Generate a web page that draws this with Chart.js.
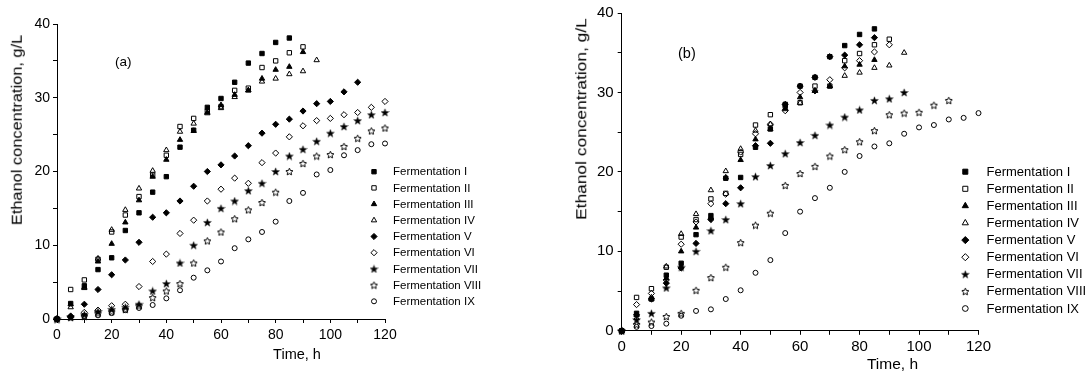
<!DOCTYPE html>
<html><head><meta charset="utf-8">
<script src="https://cdn.jsdelivr.net/npm/chart.js@4.4.1/dist/chart.umd.min.js"></script>
<style>
html,body{margin:0;padding:0;background:#fff;}
#wrap{position:relative;width:1089px;height:371px;overflow:hidden;font-family:"Liberation Sans",Arial,sans-serif;color:#000;}
canvas{position:absolute;top:0;}
.t{position:absolute;white-space:nowrap;line-height:1;}
</style></head><body>
<div id="wrap">
<canvas id="ca" width="545" height="371" style="left:0;width:545px;height:371px"></canvas>
<canvas id="cb" width="544" height="371" style="left:545px;width:544px;height:371px"></canvas>
<div class="t" style="left:16.5px;top:130px;font-size:14.5px;transform:translate(-50%,-50%) rotate(-90deg) scaleX(1.13);">Ethanol concentration, g/L</div>
<div class="t" style="left:580.5px;top:119px;font-size:15.5px;transform:translate(-50%,-50%) rotate(-90deg) scaleX(1.12);">Ethanol concentration, g/L</div>
<div class="t" style="left:297px;top:347px;font-size:14.5px;transform:translateX(-50%);">Time, h</div>
<div class="t" style="left:892.5px;top:356px;font-size:15.5px;transform:translateX(-50%);">Time, h</div>
<div class="t" style="left:115px;top:54.6px;font-size:13.5px;">(a)</div>
<div class="t" style="left:678px;top:46.3px;font-size:14.5px;">(b)</div>
</div>
<script>
// ---------- DATA ----------
const hours = [0,5,10,15,20,25,30,35,40,45,50,55,60,65,70,75,80,85,90,95,100,105,110,115,120];
const labels = ['Fermentation I','Fermentation II','Fermentation III','Fermentation IV','Fermentation V',
                'Fermentation VI','Fermentation VII','Fermentation VIII','Fermentation IX'];
const xTickLabels = [0,20,40,60,80,100,120];
const yTickLabels = [0,10,20,30,40];

// chart (a)
const a_I    = [0,2.1,4.5,6.7,8.3,12.0,14.4,17.2,19.3,23.3,25.6,28.7,29.9,32.1,34.7,36.0,37.5,38.1];
const a_II   = [0,4.0,5.3,8.1,11.8,14.1,16.6,19.5,22.2,26.1,27.2,28.2,28.8,31.0,31.3,34.1,35.0,36.1,36.9];
const a_III  = [0,2.0,4.3,7.8,10.2,13.1,16.1,19.3,21.6,24.3,25.5,28.0,29.0,30.4,31.0,32.6,33.8,34.2,36.2];
const a_IV   = [0,1.6,4.2,8.2,12.1,14.8,17.7,20.1,22.9,25.4,26.5,27.9,28.6,30.1,31.0,32.2,32.6,33.2,33.6,35.1];
const a_V    = [0,0.4,2.0,4.0,6.0,8.0,10.4,13.8,14.4,16.0,18.0,20.0,20.9,22.1,23.5,25.2,26.4,27.1,28.2,29.2,29.5,30.8,32.1];
const a_VI   = [0,0.3,0.9,1.2,1.8,2.0,4.4,7.8,8.8,11.6,13.4,16.0,17.6,19.1,18.4,21.2,22.5,24.7,26.2,26.9,27.2,27.7,28.0,28.7,29.5];
const a_VII  = [0,0.3,0.6,1.0,1.3,1.6,2.0,3.8,4.8,7.6,10.0,13.1,15.0,16.0,17.4,18.4,20.0,22.1,23.0,24.1,25.2,26.1,26.9,27.7,28.0];
const a_VIII = [0,0.2,0.4,0.8,1.0,1.3,1.8,2.9,3.8,4.8,7.6,10.6,11.8,13.6,14.8,15.8,17.2,20.0,21.1,22.1,22.3,23.4,24.5,25.5,25.9];
const a_IX   = [0,0.3,0.4,0.5,0.8,1.2,1.5,1.9,2.8,3.9,5.6,6.6,7.8,9.6,10.8,11.8,13.2,16.0,17.1,19.6,20.2,22.2,22.9,23.7,23.8];

// chart (b)
const b_I    = [0,2.2,4.0,7.0,8.5,12.1,14.5,19.2,19.3,23.1,25.4,28.5,30.8,31.9,34.5,35.9,37.3,38.0];
const b_II   = [0,4.2,5.3,8.0,11.8,14.0,16.6,17.3,22.2,25.9,27.2,28.3,28.7,30.8,30.8,34.0,34.9,36.0,36.7];
const b_III  = [0,2.0,4.0,6.6,10.0,13.0,14.3,19.3,21.5,24.1,25.4,28.0,29.4,30.2,30.8,33.3,33.5,34.1];
const b_IV   = [0,1.6,4.2,8.1,12.2,14.7,17.7,20.1,22.9,25.2,26.0,27.9,28.7,30.2,30.8,32.1,32.5,33.1,33.4,35.0];
const b_V    = [0,2.0,4.0,6.0,7.9,11.0,14.0,16.0,18.0,23.3,23.6,28.5,30.8,31.9,34.5,34.7,36.0,36.9];
const b_VI   = [0,3.3,4.7,6.4,10.9,13.7,16.0,17.2,22.5,24.8,26.0,27.7,30.0,30.2,31.6,33.1,34.0,35.1,36.0];
const b_VII  = [0,1.4,2.2,5.4,8.0,10.0,12.6,14.0,16.0,19.4,20.8,22.3,23.7,24.6,25.9,26.9,27.8,29.0,29.2,30.0];
const b_VIII = [0,0.8,1.1,1.8,2.2,5.1,6.7,8.0,11.1,13.3,14.8,18.3,19.8,20.7,22.0,22.8,23.8,25.2,27.2,27.4,27.5,28.4,29.0];
const b_IX   = [0,0.5,0.6,0.9,1.9,2.5,2.7,4.0,5.1,7.3,8.9,12.3,15.0,16.7,18.0,20.0,22.0,23.2,23.6,24.8,25.6,25.9,26.6,26.8,27.4];

// ---------- MARKERS ----------
function makeStar(filled){
  const c = document.createElement('canvas'); c.width = 9; c.height = 9;
  const g = c.getContext('2d');
  const R = filled ? 4.1 : 3.7, r = filled ? 1.7 : 1.75, cx = 4.5, cy = 4.9;
  g.beginPath();
  for (let k = 0; k < 10; k++){
    const ang = -Math.PI/2 + k*Math.PI/5, rr = (k % 2) ? r : R;
    g.lineTo(cx + rr*Math.cos(ang), cy + rr*Math.sin(ang));
  }
  g.closePath();
  g.lineJoin = 'miter';
  if (filled){ g.fillStyle = '#000'; g.fill(); g.lineWidth = 0.4; g.strokeStyle = '#000'; g.stroke(); }
  else { g.lineWidth = 1.0; g.strokeStyle = '#000'; g.stroke(); }
  return c;
}
const starF = makeStar(true), starO = makeStar(false);
const markers = [
  {style:'rect', filled:true, r:3.1},
  {style:'rect', filled:false, r:3.1},
  {style:'triangle', filled:true, r:3.1},
  {style:'triangle', filled:false, r:3.1},
  {style:'rectRot', filled:true, r:3.1},
  {style:'rectRot', filled:false, r:3.1},
  {style:starF, filled:true, r:3.5},
  {style:starO, filled:false, r:3.5},
  {style:'circle', filled:false, r:2.5}
];

function buildDatasets(seriesList){
  return seriesList.map((vals, k) => ({
    label: labels[k],
    data: vals.map((v, i) => ({x: hours[i], y: v})),
    pointStyle: markers[k].style,
    pointRadius: markers[k].r,
    pointHoverRadius: markers[k].r,
    backgroundColor: markers[k].filled ? '#000' : 'rgba(0,0,0,0)',
    borderColor: '#000',
    borderWidth: 1,
    showLine: false,
    clip: false
  }));
}

function drawMarker(ctx, k, x, y, scale){
  const m = markers[k];
  ctx.save();
  ctx.fillStyle = m.filled ? '#000' : 'rgba(0,0,0,0)';
  ctx.strokeStyle = '#000';
  ctx.lineWidth = 1;
  if (Chart.helpers && Chart.helpers.drawPoint){
    Chart.helpers.drawPoint(ctx, {pointStyle: m.style, radius: m.r*scale, rotation: 0, borderWidth: 1}, x, y);
  } else if (typeof m.style !== 'string'){
    ctx.drawImage(m.style, x - m.style.width/2, y - m.style.height/2);
  }
  ctx.restore();
}

function legendPlugin(cfg){
  return {
    id: 'inlegend',
    afterDraw(chart){
      const ctx = chart.ctx;
      ctx.save();
      for (let k = 0; k < labels.length; k++){
        const y = cfg.y0 + k*cfg.dy;
        drawMarker(ctx, k, cfg.mx, y, cfg.ms);
        ctx.fillStyle = '#000';
        ctx.font = cfg.font;
        ctx.textAlign = 'left';
        ctx.textBaseline = 'middle';
        ctx.fillText(labels[k], cfg.tx, y + 0.5);
      }
      ctx.restore();
    }
  };
}

function axis(dir, min, max, step, tickLabels, fontSize, pad, size){
  return {
    type: 'linear', position: dir === 'x' ? 'bottom' : 'left', min, max,
    ticks: {stepSize: step, autoSkip: false, maxRotation: 0, padding: pad, color: '#000',
            font: {family: 'Liberation Sans', size: fontSize},
            callback: v => tickLabels.includes(v) ? String(v) : ''},
    grid: {drawOnChartArea: false, drawTicks: true, tickLength: 4, tickColor: '#000', tickWidth: 1},
    border: {display: true, color: '#000', width: 1},
    title: {display: false},
    afterFit: s => { if (dir === 'x') s.height = size; else s.width = size; }
  };
}

function makeChart(id, seriesList, lay, leg){
  return new Chart(document.getElementById(id), {
    type: 'scatter',
    data: {datasets: buildDatasets(seriesList)},
    options: {
      responsive: false, animation: false, devicePixelRatio: 1,
      layout: {padding: lay.padding},
      plugins: {legend: {display: false}, tooltip: {enabled: false}, title: {display: false}},
      scales: {
        x: axis('x', 0, 120, 10, xTickLabels, lay.font, lay.xpad, lay.xh),
        y: axis('y', 0, 40, 5, yTickLabels, lay.font, lay.ypad, lay.yw)
      }
    },
    plugins: [legendPlugin(leg)]
  });
}

makeChart('ca', [a_I,a_II,a_III,a_IV,a_V,a_VI,a_VII,a_VIII,a_IX],
  {padding: {left: 0, right: 160, top: 24, bottom: 0}, font: 14, xpad: 4, ypad: 3, xh: 52, yw: 57},
  {mx: 374, tx: 393, y0: 171.7, dy: 16.2, font: '11.5px "Liberation Sans"', ms: 1.0});

makeChart('cb', [b_I,b_II,b_III,b_IV,b_V,b_VI,b_VII,b_VIII,b_IX],
  {padding: {left: 0, right: 110.5, top: 12.7, bottom: 0}, font: 15, xpad: 3, ypad: 4, xh: 40.2, yw: 76.7},
  {mx: 420.3, tx: 441.5, y0: 171.7, dy: 17.1, font: '13px "Liberation Sans"', ms: 1.15});
</script>
</body></html>
